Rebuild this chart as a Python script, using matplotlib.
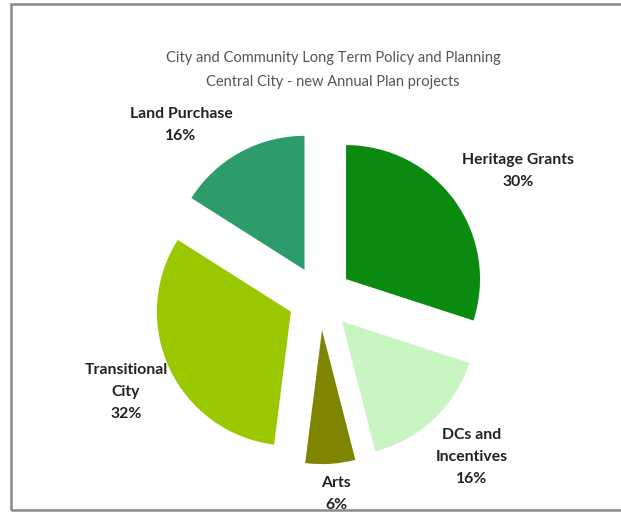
import matplotlib
matplotlib.use("Agg")
import matplotlib.pyplot as plt
from matplotlib.patches import Rectangle

categories = ["Heritage Grants", "DCs and\nIncentives", "Arts", "Transitional\nCity", "Land Purchase"]
values = [30, 16, 6, 32, 16]
colors = ["#0b8a10", "#c9f5c3", "#7f8500", "#99c800", "#2e9b6b"]

W, H = 621, 512
cx, cy, r = 320, 298, 134

fig = plt.figure(figsize=(W / 100, H / 100), dpi=100)
fig.patch.set_facecolor("white")
ax = fig.add_axes([0, 0, 1, 1])

ax.pie(values, colors=colors, startangle=90, counterclock=False,
       explode=[0.24] * len(values), radius=1,
       wedgeprops=dict(linewidth=0))
ax.set_xlim(-cx / r, (W - cx) / r)
ax.set_ylim(-(H - cy) / r, cy / r)
ax.set_aspect("auto")
ax.axis("off")

def px(x, y):
    return ((x - cx) / r, (cy - y) / r)

font = "Lato"
label_pos = [(518, 171), (472, 457), (336, 494), (126, 392), (181, 125)]
for cat, val, (lx, ly) in zip(categories, values, label_pos):
    ax.text(*px(lx, ly), f"{cat}\n{val}%", ha="center", va="center",
            fontsize=11.3, fontweight="bold", color="#222222", family=font,
            linespacing=1.72, clip_on=False)

ax.text(*px(333, 70), "City and Community Long Term Policy and Planning\nCentral City - new Annual Plan projects",
        ha="center", va="center", fontsize=10.5, color="#555555", family=font, linespacing=1.9)

# frame border
fig.add_artist(Rectangle((11 / W, 2 / H), 1.2, (H - 6) / H, transform=fig.transFigure,
                         fill=False, edgecolor="#8a8a8a", linewidth=1.8))

fig.savefig("out.png", dpi=100, facecolor="white")
